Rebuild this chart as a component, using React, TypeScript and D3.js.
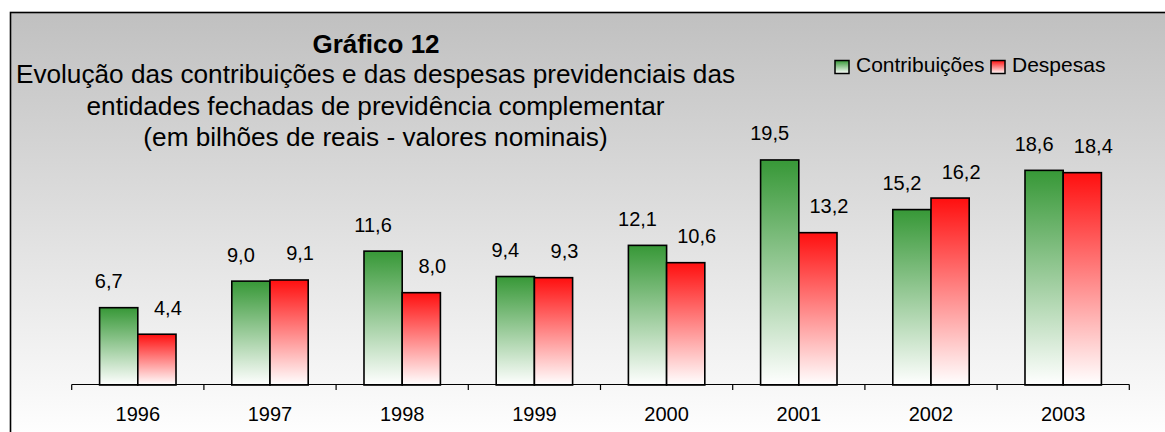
import React from "react";
import * as d3 from "d3";

const years = ["1996", "1997", "1998", "1999", "2000", "2001", "2002", "2003"];
const contribuicoes = [6.7, 9.0, 11.6, 9.4, 12.1, 19.5, 15.2, 18.6];
const despesas = [4.4, 9.1, 8.0, 9.3, 10.6, 13.2, 16.2, 18.4];
const seriesNames = ["Contribuições", "Despesas"];
const titleText = "Gráfico 12";
const subtitleLines = [
  "Evolução das contribuições e das despesas previdenciais das",
  "entidades fechadas de previdência complementar",
  "(em bilhões de reais - valores nominais)",
];
const yDomain = [0, 25];

const W = 1165;
const H = 432;
const FONT = "'Liberation Sans', Arial, sans-serif";

export default function App() {
  const x = d3.scaleBand<string>().domain(years).range([71.7, 1129.3]).padding(0);
  const bw = x.bandwidth();
  const groupFrac = 0.578;
  const xs = d3
    .scaleBand<string>()
    .domain(seriesNames)
    .range([bw * (1 - groupFrac) / 2, bw * (1 + groupFrac) / 2])
    .padding(0);
  const y = d3.scaleLinear().domain(yDomain).range([385, 96.5]);
  const locale = d3.formatLocale({ decimal: ",", thousands: ".", grouping: [3], currency: ["", ""] });
  const fmt = locale.format(".1f");

  const series = [
    { name: seriesNames[0], values: contribuicoes, grad: "gGreen", dx: -10 },
    { name: seriesNames[1], values: despesas, grad: "gRed", dx: 11 },
  ];
  const baseY = 384.5;
  const tickXs = [...years.map((d) => x(d) as number), (x(years[years.length - 1]) as number) + bw];

  const legendItems = [
    { name: seriesNames[0], grad: "gGreen", x: 835 },
    { name: seriesNames[1], grad: "gRed", x: 991 },
  ];

  return (
    <svg
      width={W}
      height={H}
      style={{ position: "fixed", left: 0, top: 0, display: "block" }}
      fontFamily={FONT}
    >
      <defs>
        <linearGradient id="bg" x1="0" y1="12" x2="0" y2="440" gradientUnits="userSpaceOnUse">
          <stop offset="0" stopColor="#c0c0c0" />
          <stop offset="1" stopColor="#ffffff" />
        </linearGradient>
        <linearGradient id="gGreen" x1="0" y1="0" x2="0" y2="1">
          <stop offset="0" stopColor="#379837" />
          <stop offset="1" stopColor="#ffffff" />
        </linearGradient>
        <linearGradient id="gRed" x1="0" y1="0" x2="0" y2="1">
          <stop offset="0" stopColor="#ff0f0f" />
          <stop offset="1" stopColor="#ffffff" />
        </linearGradient>
      </defs>
      <rect width={W} height={H} fill="#ffffff" />
      <rect x={10.5} y={12.5} width={1300} height={600} fill="url(#bg)" stroke="#000" strokeWidth={1.6} />

      <text x={376} y={53} textAnchor="middle" fontSize={26} fontWeight="bold" fill="#000">
        {titleText}
      </text>
      {subtitleLines.map((l, i) => (
        <text key={i} x={375.5} y={83 + i * 31.5} textAnchor="middle" fontSize={26.2} fill="#000">
          {l}
        </text>
      ))}

      {legendItems.map((it) => (
        <g key={it.name}>
          <rect x={it.x} y={60.5} width={14} height={13} fill={`url(#${it.grad})`} stroke="#000" strokeWidth={1.5} />
          <text x={it.x + 21} y={72} fontSize={21} fill="#000">
            {it.name}
          </text>
        </g>
      ))}

      {series.map((s) =>
        years.map((yr, i) => {
          const bx = (x(yr) as number) + (xs(s.name) as number);
          const by = y(s.values[i]);
          return (
            <g key={s.name + yr}>
              <rect
                x={bx}
                y={by}
                width={xs.bandwidth()}
                height={y(0) - by}
                fill={`url(#${s.grad})`}
                stroke="#000"
                strokeWidth={1.6}
              />
              <text
                x={bx + xs.bandwidth() / 2 + s.dx}
                y={by - 27 + 7.5}
                textAnchor="middle"
                fontSize={20}
                fill="#000"
              >
                {fmt(s.values[i])}
              </text>
            </g>
          );
        })
      )}

      <line x1={tickXs[0]} x2={tickXs[tickXs.length - 1]} y1={baseY} y2={baseY} stroke="#000" strokeWidth={1.2} />
      {tickXs.map((tx, i) => (
        <line key={i} x1={tx} x2={tx} y1={baseY} y2={baseY + 5.5} stroke="#000" strokeWidth={1.2} />
      ))}
      {years.map((yr) => (
        <text key={yr} x={(x(yr) as number) + bw / 2} y={421} textAnchor="middle" fontSize={20} fill="#000">
          {yr}
        </text>
      ))}
    </svg>
  );
}
